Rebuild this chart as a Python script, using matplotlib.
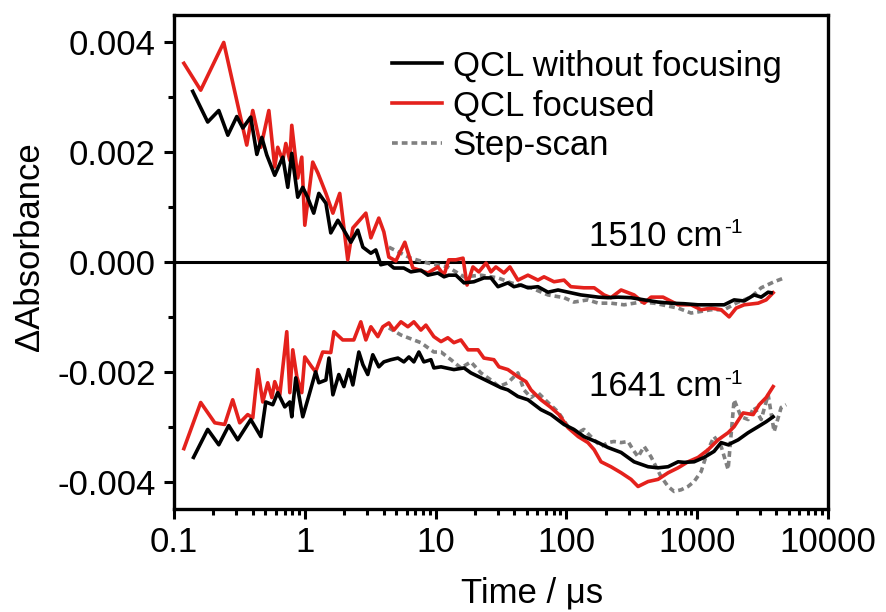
import numpy as np
import matplotlib
matplotlib.use("Agg")
import matplotlib.pyplot as plt
from matplotlib.ticker import FixedLocator, LogLocator, NullFormatter

plt.rcParams['font.family'] = ['Liberation Sans', 'DejaVu Sans']
plt.rcParams['axes.unicode_minus'] = False

# values; absorbance in units of 1e-3
# ---- 1510 cm-1 ----
t_1510_nofoc = [0.139, 0.181, 0.220, 0.258, 0.302, 0.336, 0.386, 0.430, 0.469, 0.512,
                0.589, 0.679, 0.741, 0.795, 0.883, 0.965, 1.05, 1.17, 1.28, 1.45,
                1.58, 1.79, 1.99, 2.25, 2.54, 2.78, 3.20, 3.49, 3.81, 4.32,
                4.80, 5.71, 6.47, 7.72, 8.73, 10.4, 11.6, 12.6, 14.3, 16.5,
                19.6, 23.4, 26.5, 30.0, 35.7, 39.7, 45.0, 50.8, 60.6, 72.3,
                86.3, 108, 129, 175, 208, 248, 312, 393, 502, 631,
                794, 1016, 1277, 1607, 1915, 2285, 2724, 3083, 3487, 3675]
a_1510_nofoc = [3.11, 2.55, 2.76, 2.31, 2.65, 2.44, 2.64, 1.96, 2.27, 1.95,
                1.58, 1.91, 1.36, 1.98, 1.18, 1.36, 1.18, 0.89, 1.25, 1.07,
                0.53, 0.76, 0.58, 0.36, 0.58, 0.27, 0.16, 0.22, -0.05, -0.02,
                -0.11, -0.11, -0.18, -0.15, -0.24, -0.20, -0.27, -0.24, -0.24, -0.38,
                -0.36, -0.29, -0.29, -0.45, -0.38, -0.45, -0.42, -0.47, -0.45, -0.55,
                -0.51, -0.56, -0.60, -0.64, -0.65, -0.64, -0.65, -0.69, -0.73, -0.75,
                -0.76, -0.78, -0.78, -0.78, -0.69, -0.71, -0.60, -0.64, -0.55, -0.56]

t_1510_foc = [0.119, 0.160, 0.240, 0.360, 0.400, 0.461, 0.531, 0.589, 0.621, 0.679,
              0.716, 0.768, 0.795, 0.883, 0.948, 1.00, 1.15, 1.26, 1.45, 1.64,
              1.85, 2.13, 2.33, 2.93, 3.20, 3.68, 4.02, 4.39, 4.97, 5.82,
              6.70, 8.73, 10.4, 11.6, 12.6, 14.3, 16.2, 17.4, 19.3, 21.4,
              24.3, 26.5, 28.9, 33.3, 37.0, 42.6, 50.8, 60.6, 67.4, 80.4,
              95.9, 108, 136, 163, 194, 219, 262, 329, 393, 444,
              548, 714, 898, 1071, 1277, 1524, 1754, 1985, 2285, 2924,
              3367, 3808]
a_1510_foc = [3.62, 3.13, 4.00, 2.13, 2.76, 2.09, 2.76, 1.73, 2.09, 1.85,
              2.16, 1.85, 2.49, 1.53, 1.91, 0.67, 1.82, 1.62, 1.25, 0.89,
              1.25, 0.04, 0.62, 0.89, 0.44, 0.80, 0.55, 0.09, 0.02, 0.36,
              -0.11, -0.20, -0.09, -0.24, 0.04, 0.04, 0.07, -0.42, -0.09, -0.18,
              -0.02, -0.18, -0.09, -0.20, -0.09, -0.33, -0.24, -0.33, -0.27, -0.36,
              -0.33, -0.45, -0.47, -0.47, -0.60, -0.65, -0.51, -0.60, -0.75, -0.64,
              -0.64, -0.78, -0.78, -0.87, -0.84, -0.87, -1.00, -0.84, -0.78, -0.75,
              -0.69, -0.56]

t_1510_step = [4.39, 6.47, 8.73, 12.4, 16.5, 22.2, 30.0, 37.7, 53.6, 72.3,
               95.9, 114, 146, 175, 219, 276, 372, 468, 714, 898,
               1277, 1607, 2056, 2582, 3083, 3873, 4624]
a_1510_step = [0.27, 0.07, -0.02, -0.09, -0.27, -0.24, -0.29, -0.38, -0.47, -0.60,
               -0.65, -0.73, -0.69, -0.75, -0.75, -0.78, -0.73, -0.75, -0.84, -0.93,
               -0.87, -0.87, -0.73, -0.64, -0.47, -0.36, -0.29]

# ---- 1641 cm-1 ----
t_1641_nofoc = [0.141, 0.181, 0.220, 0.262, 0.307, 0.386, 0.461, 0.503, 0.569, 0.621,
                0.703, 0.768, 0.795, 0.853, 0.965, 1.07, 1.21, 1.28, 1.45, 1.53,
                1.64, 1.82, 1.99, 2.17, 2.33, 2.59, 2.78, 3.03, 3.31, 3.68,
                4.02, 4.55, 5.15, 5.72, 6.25, 6.82, 7.45, 8.13, 9.21, 9.70,
                11.0, 13.8, 16.5, 18.6, 22.2, 26.5, 31.6, 35.7, 42.6, 50.8,
                63.9, 76.2, 95.9, 114, 136, 175, 208, 262, 329, 421,
                502, 599, 714, 794, 947, 1130, 1346, 1524, 1723, 2056,
                2451, 2924, 3367, 3808]
a_1641_nofoc = [-3.56, -3.05, -3.33, -2.98, -3.24, -2.87, -3.18, -2.55, -2.60, -2.38,
                -2.64, -2.55, -2.82, -2.11, -2.82, -2.45, -2.00, -2.20, -2.15, -1.75,
                -2.42, -2.05, -2.27, -1.96, -2.24, -1.64, -1.87, -2.05, -1.69, -1.91,
                -1.82, -1.78, -1.75, -1.82, -1.73, -1.82, -1.64, -1.82, -1.78, -1.93,
                -1.91, -1.96, -1.93, -2.02, -2.11, -2.20, -2.29, -2.33, -2.45, -2.51,
                -2.69, -2.78, -2.96, -3.05, -3.18, -3.29, -3.38, -3.47, -3.64, -3.73,
                -3.75, -3.73, -3.64, -3.65, -3.64, -3.56, -3.45, -3.29, -3.33, -3.24,
                -3.11, -3.00, -2.91, -2.82]

t_1641_foc = [0.119, 0.160, 0.205, 0.244, 0.281, 0.318, 0.366, 0.400, 0.437, 0.477,
              0.521, 0.560, 0.589, 0.644, 0.728, 0.768, 0.809, 0.869, 0.948, 1.00,
              1.13, 1.21, 1.37, 1.58, 1.67, 1.95, 2.17, 2.37, 2.68, 2.93,
              3.20, 3.62, 3.95, 4.39, 4.80, 5.43, 6.14, 6.82, 7.72, 8.43,
              9.70, 11.0, 12.4, 13.8, 15.6, 17.7, 21.1, 23.4, 27.9, 30.5,
              35.7, 42.6, 49.1, 53.6, 63.9, 76.2, 87.8, 103, 123, 146,
              163, 184, 219, 262, 312, 353, 421, 502, 599, 714,
              851, 1016, 1211, 1445, 1723, 1915, 2244, 2679, 2979, 3367,
              3808]
a_1641_foc = [-3.40, -2.56, -2.93, -2.96, -2.51, -2.93, -2.78, -2.84, -1.96, -2.55,
              -2.20, -2.47, -2.18, -2.42, -1.27, -2.38, -1.60, -2.09, -2.38, -1.73,
              -1.91, -2.00, -1.64, -1.65, -1.27, -1.42, -1.42, -1.42, -1.09, -1.42,
              -1.18, -1.36, -1.18, -1.11, -1.24, -1.09, -1.18, -1.09, -1.24, -1.15,
              -1.36, -1.45, -1.38, -1.47, -1.42, -1.60, -1.60, -1.75, -1.78, -1.91,
              -1.96, -2.09, -2.18, -2.33, -2.51, -2.65, -2.78, -3.02, -3.18, -3.29,
              -3.42, -3.64, -3.73, -3.84, -3.96, -4.09, -4.00, -3.96, -3.84, -3.75,
              -3.64, -3.56, -3.42, -3.24, -3.11, -3.00, -2.75, -2.78, -2.60, -2.47,
              -2.27]

t_1641_step = [4.39, 5.43, 7.72, 9.70, 11.0, 13.1, 15.6, 18.6, 22.2, 26.5,
               30.5, 35.7, 42.6, 47.4, 53.6, 60.6, 72.3, 86.3, 103, 123,
               136, 163, 184, 208, 231, 262, 296, 323, 353, 393,
               444, 529, 599, 666, 753, 851, 947, 1071, 1211, 1346,
               1524, 1723, 1915, 2167, 2451, 2724, 3083, 3487, 3873, 4385,
               4786]
a_1641_step = [-1.20, -1.33, -1.47, -1.64, -1.64, -1.78, -1.93, -1.82, -2.02, -2.15,
               -2.27, -2.20, -2.02, -2.33, -2.47, -2.38, -2.56, -2.73, -3.00, -3.11,
               -3.05, -3.24, -3.36, -3.29, -3.27, -3.29, -3.27, -3.42, -3.55, -3.36,
               -3.55, -3.91, -4.09, -4.18, -4.15, -4.09, -4.00, -3.82, -3.42, -3.18,
               -3.36, -3.78, -2.51, -2.82, -2.87, -2.64, -2.87, -2.42, -3.09, -2.65,
               -2.60]

labels = ['QCL without focusing', 'QCL focused', 'Step-scan']
bands = ['1510', '1641']

black = '#000000'
red = '#e4211c'
grey = '#808080'
lw = 2.6
fs = 25

fig = plt.figure(figsize=(8.86, 6.12), dpi=100)
ax = fig.add_axes([174 / 886, 1 - 509 / 612, 654 / 886, 494 / 612])

s = 1e-3
ax.axhline(0, color='k', lw=2.2, zorder=1)

l1, = ax.plot(t_1510_nofoc, np.array(a_1510_nofoc) * s, color=black, lw=lw, zorder=4)
l2, = ax.plot(t_1510_foc, np.array(a_1510_foc) * s, color=red, lw=lw, zorder=3)
l3, = ax.plot(t_1510_step, np.array(a_1510_step) * s, color=grey, lw=lw,
              dashes=(1.6, 1.1), zorder=2)
ax.plot(t_1641_nofoc, np.array(a_1641_nofoc) * s, color=black, lw=lw, zorder=4)
ax.plot(t_1641_foc, np.array(a_1641_foc) * s, color=red, lw=lw, zorder=3)
ax.plot(t_1641_step, np.array(a_1641_step) * s, color=grey, lw=lw,
        dashes=(1.6, 1.1), zorder=2)

ax.set_xscale('log')
ax.set_xlim(0.1, 10000)
ax.set_ylim(-0.0045, 0.0045)

ax.xaxis.set_major_locator(FixedLocator([0.1, 1, 10, 100, 1000, 10000]))
ax.set_xticklabels(['0.1', '1', '10', '100', '1000', '10000'])
ax.xaxis.set_minor_locator(LogLocator(base=10, subs=np.arange(2, 10)))
ax.xaxis.set_minor_formatter(NullFormatter())

yt = [-0.004, -0.002, 0.0, 0.002, 0.004]
ax.yaxis.set_major_locator(FixedLocator(yt))
ax.set_yticklabels([f'{v:.3f}' for v in yt])
ax.yaxis.set_minor_locator(FixedLocator([-0.003, -0.001, 0.001, 0.003]))

for sp in ax.spines.values():
    sp.set_linewidth(2.4)

ax.tick_params(which='major', direction='out', length=7, width=2.2,
               labelsize=fs)
ax.tick_params(axis='y', which='major', pad=6)
ax.tick_params(axis='x', which='major', pad=5)
ax.tick_params(which='minor', direction='out', length=4, width=2.2)

ax.set_xlabel('Time / μs', fontsize=fs)
ax.xaxis.set_label_coords(0.547, -0.136)
ax.set_ylabel('ΔAbsorbance', fontsize=fs)
ax.yaxis.set_label_coords(-0.196, 0.532)

# band labels with a small raised "-1"
for band, yy in zip(bands, [0.551, 0.247]):
    t = ax.text(0.635, yy, band + ' cm', transform=ax.transAxes, fontsize=fs,
                ha='left', va='center')
    fig.canvas.draw()
    bb = t.get_window_extent()
    x_end, y_end = ax.transAxes.inverted().transform((bb.x1, bb.y1))
    ax.text(x_end + 0.002, y_end + 0.004, '-1', transform=ax.transAxes,
            fontsize=15, ha='left', va='top')

ax.legend([l1, l2, l3], labels, loc='upper left', bbox_to_anchor=(0.333, 0.93),
          frameon=False, fontsize=fs, handlelength=1.45, handletextpad=0.3,
          labelspacing=0.2, borderpad=0, borderaxespad=0)

fig.savefig('out.png', dpi=100)
